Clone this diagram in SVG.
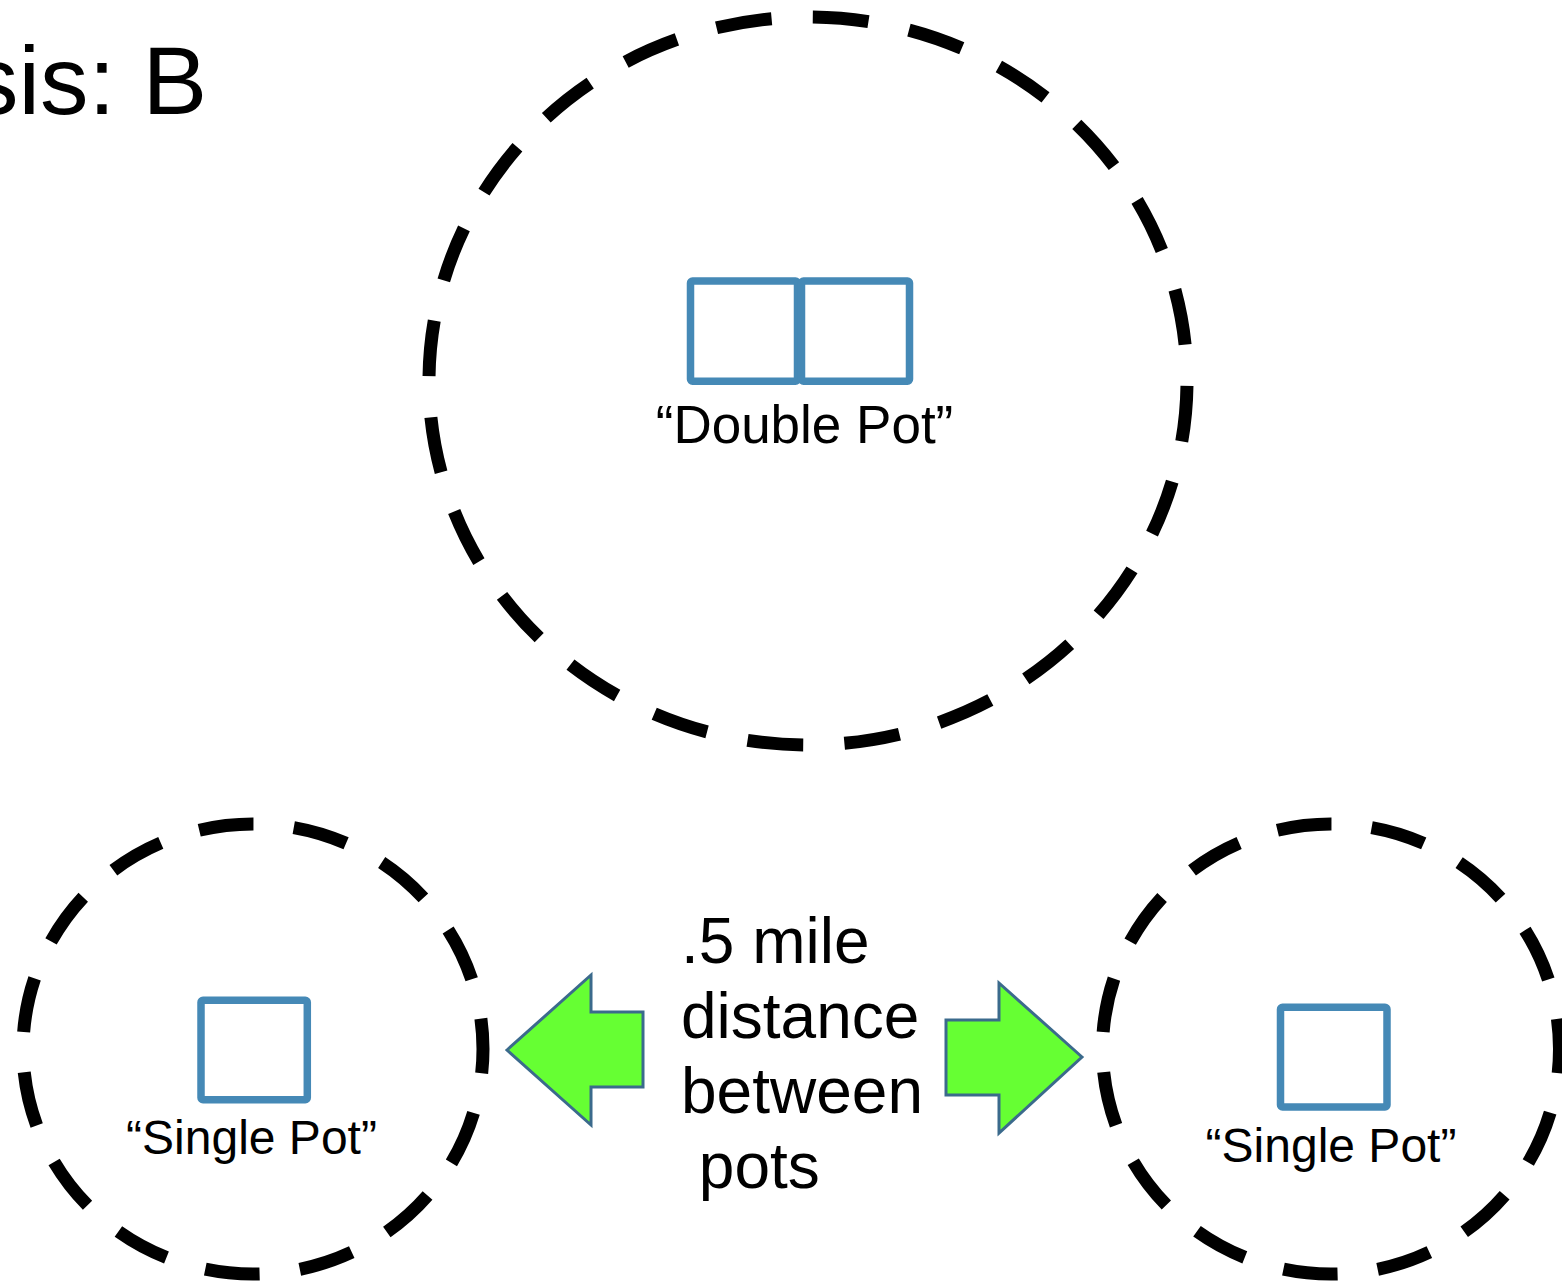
<svg xmlns="http://www.w3.org/2000/svg" width="1562" height="1282" viewBox="0 0 1562 1282">
  <style>
    .zone { fill: none; stroke: #000; stroke-width: 13; stroke-dasharray: 57.5 42.5; }
    .pot { fill: #fff; stroke: #4589b6; stroke-width: 7.5; }
    .label { font-family: "Liberation Sans", Arial, sans-serif; fill: #000; }
    .arrow { fill: #66ff33; stroke: #3b6a8c; stroke-width: 3; stroke-linejoin: miter; }
  </style>
  <rect x="0" y="0" width="1562" height="1282" fill="#fff"/>

  <!-- heading (runs off the left edge) -->
  <text class="label" x="-30" y="114" font-size="97">sis: B</text>

  <!-- double pot zone -->
  <g id="double-pot">
    <ellipse class="zone" cx="808" cy="381" rx="379" ry="364" pathLength="2400" stroke-dashoffset="-5"/>
    <rect class="pot" x="690.5" y="281" width="107" height="100.3" rx="2"/>
    <rect class="pot" x="801.5" y="281" width="108" height="100.3" rx="2"/>
    <text class="label" x="804.5" y="443" font-size="53" text-anchor="middle">“Double Pot”</text>
  </g>

  <!-- left single pot zone -->
  <g id="single-pot-left">
    <ellipse class="zone" cx="253" cy="1049" rx="230" ry="225" pathLength="1500" stroke-dashoffset="32"/>
    <rect class="pot" x="201" y="1000.3" width="106.3" height="99.4" rx="2"/>
    <text class="label" x="251.5" y="1154" font-size="48" text-anchor="middle">“Single Pot”</text>
  </g>

  <!-- right single pot zone -->
  <g id="single-pot-right">
    <ellipse class="zone" cx="1331" cy="1049" rx="228.5" ry="225" pathLength="1500" stroke-dashoffset="32"/>
    <rect class="pot" x="1280.5" y="1007.3" width="106.5" height="99.7" rx="2"/>
    <text class="label" x="1331" y="1162" font-size="48" text-anchor="middle">“Single Pot”</text>
  </g>

  <!-- distance arrows -->
  <g id="connectors">
    <polygon class="arrow" points="507,1050 591,975 591,1012 643,1012 643,1087 591,1087 591,1125"/>
    <polygon class="arrow" points="1082,1057 999,983 999,1020 946,1020 946,1095 999,1095 999,1133"/>
  </g>

  <!-- distance note -->
  <g id="distance-label">
    <text class="label" font-size="64" xml:space="preserve"><tspan x="681" y="963">.5 mile</tspan><tspan x="681" y="1038">distance</tspan><tspan x="681" y="1113">between</tspan><tspan x="681" y="1188"> pots</tspan></text>
  </g>
</svg>
